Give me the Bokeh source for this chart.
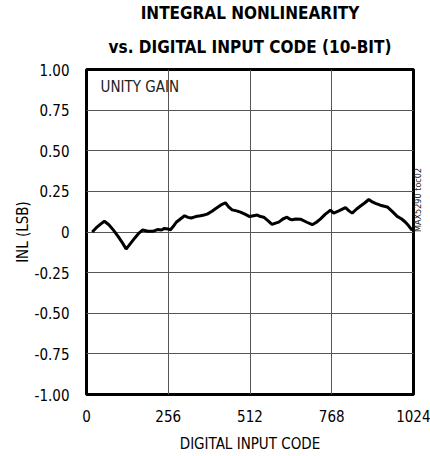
import math
from bokeh.plotting import figure
from bokeh.models import FixedTicker, Title, LinearAxis, Label
from bokeh.embed import file_html
from bokeh.resources import INLINE

codes = [18, 30, 45, 56, 70, 85, 100, 112, 124, 138, 152, 165, 176, 192, 208, 222,
         235, 244, 255, 263, 272, 281, 294, 307, 318, 328, 342, 357, 368, 378, 393,
         405, 420, 435, 445, 456, 470, 482, 496, 511, 523, 535, 545, 555, 568, 581,
         592, 602, 615, 628, 636, 644, 656, 670, 690, 707, 720, 733, 748, 764, 774,
         790, 811, 822, 832, 845, 858, 872, 884, 895, 905, 920, 942, 958, 973, 987,
         999, 1010, 1020]
inl = [0.00, 0.025, 0.05, 0.066, 0.045, 0.01, -0.03, -0.065, -0.105, -0.07, -0.035,
       -0.005, 0.012, 0.005, 0.004, 0.015, 0.012, 0.022, 0.018, 0.014, 0.035, 0.06,
       0.08, 0.10, 0.09, 0.086, 0.095, 0.10, 0.105, 0.11, 0.128, 0.145, 0.165, 0.18,
       0.155, 0.136, 0.13, 0.122, 0.11, 0.095, 0.10, 0.104, 0.095, 0.091, 0.07, 0.047,
       0.055, 0.061, 0.08, 0.091, 0.08, 0.075, 0.08, 0.079, 0.06, 0.045, 0.06, 0.081,
       0.11, 0.134, 0.116, 0.13, 0.15, 0.13, 0.116, 0.14, 0.16, 0.18, 0.20, 0.185,
       0.176, 0.165, 0.154, 0.125, 0.096, 0.08, 0.06, 0.035, 0.01]

x_ticks = [0, 256, 512, 768, 1024]
y_ticks = [1.0, 0.75, 0.5, 0.25, 0.0, -0.25, -0.5, -0.75, -1.0]
y_tick_labels = ["1.00", "0.75", "0.50", "0.25", "0", "-0.25", "-0.50", "-0.75", "-1.00"]
title_lines = ["INTEGRAL NONLINEARITY", "vs. DIGITAL INPUT CODE (10-BIT)"]
figure_id = "MAX5290 toc02"

FONT = "DejaVu Sans Condensed"

p = figure(width=430, height=456, output_backend="svg", toolbar_location=None,
           x_range=(0, 1024), y_range=(-1, 1),
           min_border_left=86, min_border_right=17, min_border_top=68, min_border_bottom=62)

p.title = None
for i, line in enumerate(reversed(title_lines)):
    p.add_layout(Title(text=line, align="center", text_font=FONT, text_font_style="bold",
                       text_font_size="17px", text_color="black",
                       standoff=25 if i == 0 else 0), "above")

p.outline_line_color = "black"
p.outline_line_width = 3
p.outline_line_alpha = 1.0

p.xaxis.ticker = FixedTicker(ticks=x_ticks)
p.yaxis.ticker = FixedTicker(ticks=y_ticks)
p.yaxis.major_label_overrides = {v: s for v, s in zip(y_ticks, y_tick_labels)}

right_axis = LinearAxis(ticker=FixedTicker(ticks=[]), axis_label=figure_id,
                        bounds=(0.644, 1.0))
p.add_layout(right_axis, "right")

for ax in (p.xaxis[0], p.yaxis[0], right_axis):
    ax.axis_line_color = None
    ax.major_tick_line_color = None
    ax.minor_tick_line_color = None
    ax.major_tick_out = 0
    ax.major_tick_in = 0
    ax.major_label_text_font = FONT
    ax.major_label_text_font_size = "15px"
    ax.major_label_text_color = "black"
    ax.axis_label_text_font = FONT
    ax.axis_label_text_font_size = "15px"
    ax.axis_label_text_font_style = "normal"
    ax.axis_label_text_color = "black"

right_axis.major_label_text_font_size = "1px"
right_axis.major_label_standoff = 0
right_axis.axis_label_text_font_size = "9px"
right_axis.axis_label_text_color = "#222222"
right_axis.axis_label_standoff = 4
right_axis.axis_label_orientation = math.pi / 2
right_axis.axis_label_align = "center"

p.xaxis[0].axis_label = "DIGITAL INPUT CODE"
p.yaxis[0].axis_label = "INL (LSB)"
p.xaxis[0].major_label_standoff = 15
p.yaxis[0].major_label_standoff = 17
p.xaxis[0].axis_label_standoff = 10
p.yaxis[0].axis_label_standoff = 0

p.grid.grid_line_color = "#555555"
p.grid.grid_line_width = 1
p.grid.grid_line_alpha = 1.0

p.line(codes, inl, line_color="black", line_width=3)

p.add_layout(Label(x=44, y=0.89, text="UNITY GAIN", text_font=FONT,
                   text_font_size="15px", text_color="#222222", text_baseline="middle"))

open("out.html", "w").write(file_html(p, INLINE))
